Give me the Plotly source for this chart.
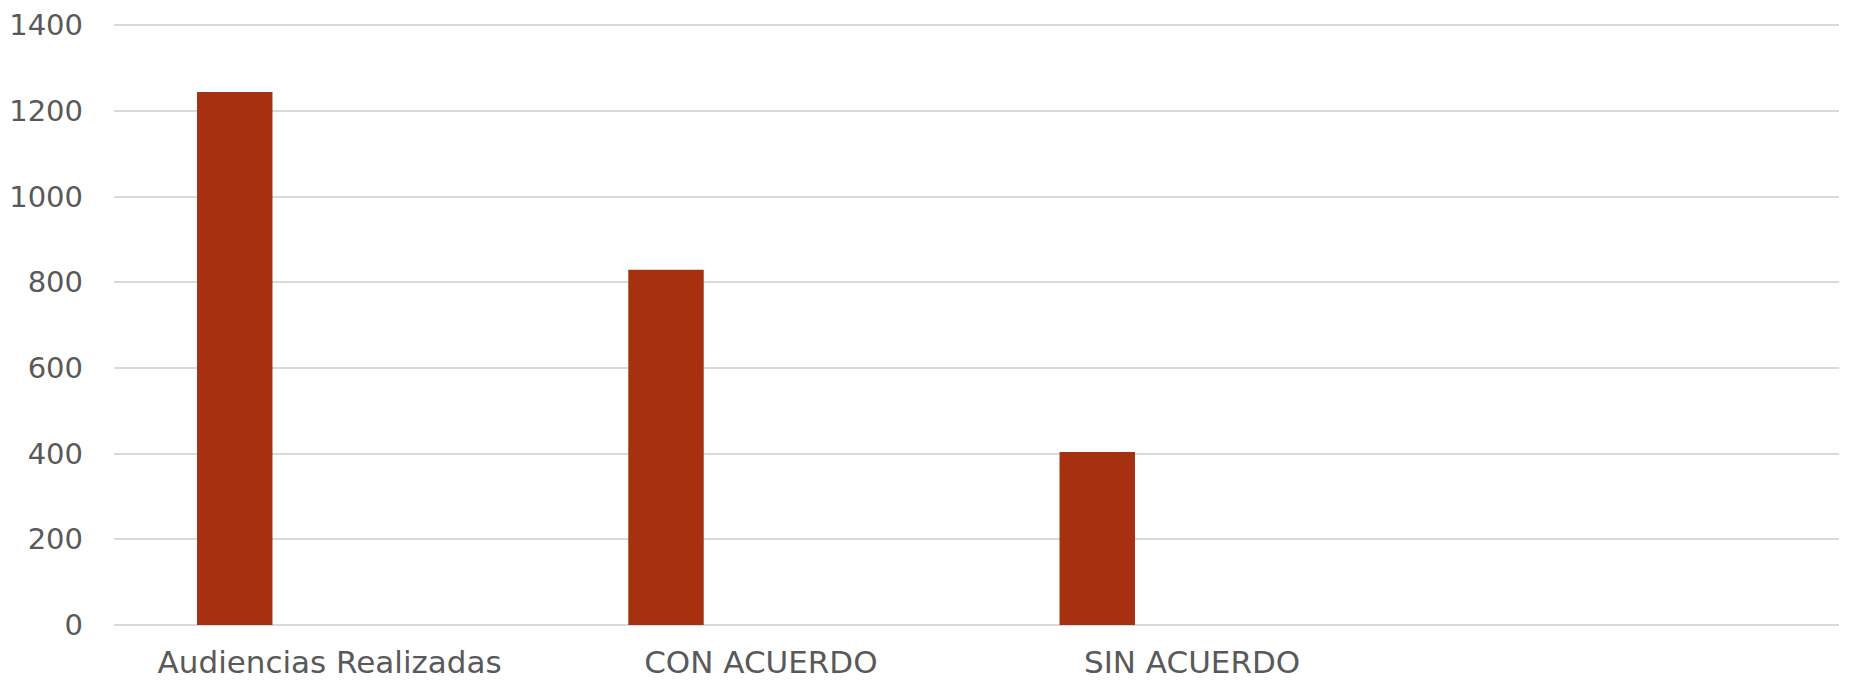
import plotly.graph_objects as go

categories = ["Audiencias Realizadas", "CON ACUERDO", "SIN ACUERDO"]
values = [1244, 829, 404]
y_ticks = [0, 200, 400, 600, 800, 1000, 1200, 1400]

fig = go.Figure()
fig.add_trace(go.Bar(
    x=categories,
    y=values,
    width=0.175,
    offset=-0.3075,
    marker=dict(color="#A6300F", line=dict(width=0)),
    hoverinfo="x+y",
))

font_family = "DejaVu Sans"
fig.update_layout(
    width=1852,
    height=684,
    margin=dict(l=106, r=21, t=15, b=67),
    paper_bgcolor="white",
    plot_bgcolor="white",
    showlegend=False,
    font=dict(family=font_family, size=28, color="#595959"),
    xaxis=dict(
        type="category",
        range=[-0.5, 3.5],
        showgrid=False,
        showline=False,
        zeroline=False,
        ticks="",
        automargin=False,
        tickfont=dict(family=font_family, size=31, color="#595959"),
        ticklabelstandoff=16,
    ),
    yaxis=dict(
        range=[0, 1405],
        tickvals=y_ticks,
        ticktext=[str(v) for v in y_ticks],
        showgrid=True,
        gridcolor="#D9D9D9",
        gridwidth=2,
        zeroline=True,
        zerolinecolor="#D9D9D9",
        zerolinewidth=2,
        showline=False,
        ticks="",
        automargin=False,
        tickfont=dict(family=font_family, size=29, color="#595959"),
        ticklabelstandoff=30,
    ),
)

fig.write_html("out.html")
